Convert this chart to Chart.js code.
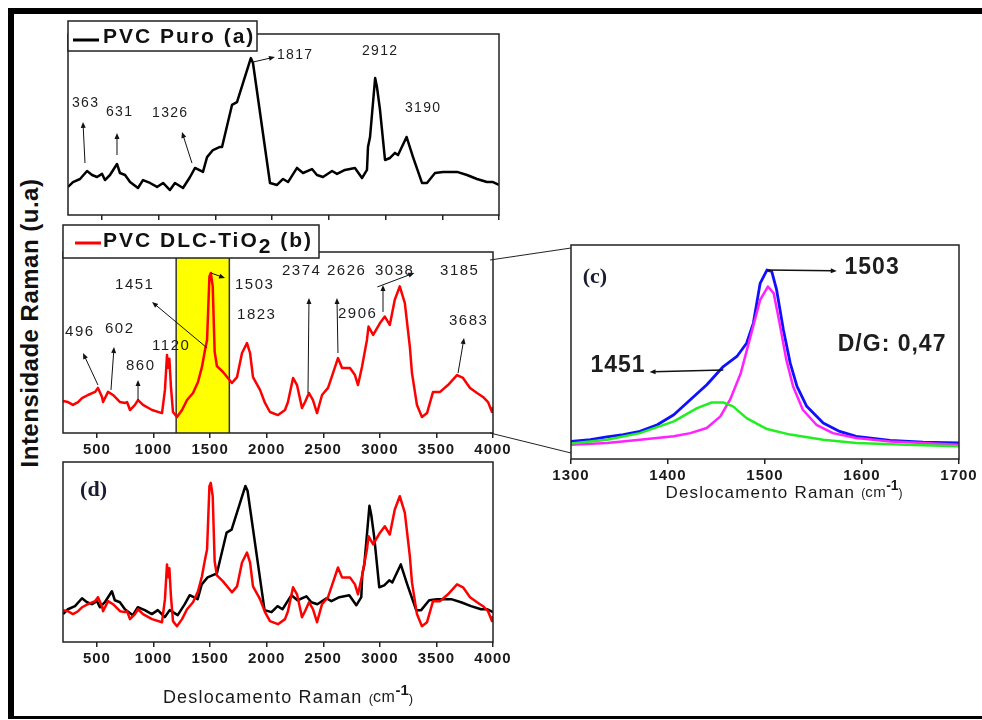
<!DOCTYPE html>
<html>
<head>
<meta charset="utf-8">
<script src="https://cdn.jsdelivr.net/npm/chart.js@4"></script>
<style>
body{margin:0;background:#fff;width:982px;height:720px;overflow:hidden;position:relative;font-family:"Liberation Sans",Arial,sans-serif}
canvas{position:absolute}
.bar{position:absolute;background:#000}
#ytitle{position:absolute;left:30px;top:323px;transform:translate(-50%,-50%) rotate(-90deg);font:bold 24px "Liberation Sans",Arial,sans-serif;white-space:nowrap;letter-spacing:0.5px;color:#111}
</style>
</head>
<body>
<div class="bar" style="left:8px;top:8px;width:974px;height:6px"></div>
<div class="bar" style="left:8px;top:8px;width:6px;height:711px"></div>
<div class="bar" style="left:8px;top:716px;width:974px;height:3px"></div>
<div id="ytitle">Intensidade Raman (u.a)</div>
<canvas id="ca" width="471" height="211" style="left:48px;top:14px"></canvas>
<canvas id="cb" width="470" height="243" style="left:43px;top:220px"></canvas>
<canvas id="cd" width="470" height="272" style="left:43px;top:440px"></canvas>
<canvas id="cc" width="492" height="276" style="left:490px;top:230px"></canvas>
<script>
// ---- data ----
const xTicksFull = [500, 1000, 1500, 2000, 2500, 3000, 3500, 4000];
const xTicksZoom = [1300, 1400, 1500, 1600, 1700];

// (a) PVC Puro
const waveA = [200,244,306,368,412,456,500,526,570,632,
  658,703,747,817,861,923,985,1038,1099,1143,
  1214,1276,1320,1390,1426,1478,1540,1558,1646,1690,
  1812,1831,1981,2043,2096,2140,2219,2272,2351,2395,
  2448,2528,2572,2642,2730,2792,2836,2845,2863,2908,
  2924,2951,2995,3039,3083,3110,3185,3242,3321,3365,
  3436,3506,3630,3718,3806,3894,3947,4000];
const intA = [15.5,18.2,19.9,24.3,22.1,21.0,22.7,19.3,22.1,28.2,
  23.2,22.1,18.2,14.9,19.3,17.7,15.5,17.7,13.8,17.7,
  14.9,21.0,26.0,23.8,32.0,35.9,37.6,37.6,60.8,62.4,
  86.7,84.0,17.7,16.6,19.9,18.2,26.0,23.2,25.4,22.1,
  21.0,24.3,22.7,24.9,26.0,20.4,24.9,37.6,43.1,75.7,
  70.7,58.0,30.4,31.5,34.3,33.1,43.1,32.0,17.7,17.7,
  23.2,23.8,23.8,22.1,19.9,18.2,18.2,16.6];

// (b) PVC DLC-TiO2
const waveB = [200,244,288,333,368,421,483,509,545,554,
  598,642,704,748,766,792,836,863,907,987,
  1075,1101,1119,1130,1140,1154,1172,1207,1252,1296,
  1349,1393,1428,1455,1473,1494,1506,1523,1540,1560,
  1614,1693,1738,1782,1826,1853,1879,1941,1985,2029,
  2100,2162,2188,2233,2268,2312,2339,2374,2409,2445,
  2489,2542,2586,2630,2666,2736,2780,2807,2842,2886,
  2900,2941,3000,3044,3088,3132,3176,3221,3265,3284,
  3328,3372,3417,3470,3532,3602,3682,3735,3797,3859,
  3912,3956,3991,4000];
const intB = [17.7,17.1,15.5,17.1,19.3,21.0,22.7,24.9,19.9,17.1,
  22.7,21.0,17.1,16.6,17.1,12.7,15.5,18.2,15.5,12.7,
  11.0,23.8,43.1,36.0,41.0,25.4,11.6,8.8,12.7,18.2,
  22.1,28.2,36.5,45.9,51.4,86.5,88.4,81.0,45.0,37.0,
  33.7,27.6,30.9,44.2,49.7,44.2,30.9,23.8,16.6,11.6,
  9.9,12.7,17.1,30.4,26.5,13.8,17.1,22.1,18.2,11.0,
  21.0,24.9,33.1,41.4,35.9,35.9,32.0,26.5,36.5,51.4,
  58.8,54.2,60.6,64.3,59.7,73.6,81.0,71.7,47.7,33.1,
  15.5,8.8,11.0,22.7,22.7,26.5,32.0,30.4,24.9,22.1,
  19.9,17.1,11.6,14.4];
const bandRange = [1200, 1670];

// (c) deconvolution 1300-1700
const waveFit = [1300,1320,1337,1354,1371,1389,1406,1423,1440,1457,1471,1481,1488,1495,1502,1507,1512,1519,1526,1533,1543,1560,1577,1594,1629,1663,1700];
const fitTotal = [8.2,9.0,10.3,11.4,12.9,16.0,20.7,27.7,34.7,43.2,47.9,54.1,63.5,82.1,88.3,87.6,79.0,60.3,44.8,33.9,24.6,16.8,12.9,10.6,8.7,7.9,7.5];
const waveG = [1300,1337,1371,1406,1423,1440,1454,1464,1475,1485,1495,1503,1509,1515,1522,1529,1539,1553,1570,1594,1629,1663,1700];
const bandG = [6.7,7.5,9.0,10.6,12.1,14.5,19.9,27.7,40.1,57.2,74.3,80.6,77.4,63.5,46.3,33.9,23.0,16.0,12.1,9.8,8.2,7.5,6.7];
const waveD = [1300,1337,1371,1406,1430,1445,1457,1467,1481,1502,1526,1560,1594,1646,1700];
const bandD = [7.2,9.0,12.1,17.6,23.8,26.4,26.4,24.6,19.1,14.0,11.4,9.0,7.5,6.7,5.9];

// peak labels [text, wavenumber, intensity] and arrows [x1, y1, x2, y2]
const notesA = [['1817',2043,88.4],['2912',2792,90.6],['363',235,61.9],['631',535,56.9],['1326',941,56.4],['3190',3171,59.1]];
const arrowsA = [[1831,84.5,2025,87.3],[350,28.7,332,51.4],[632,33.1,632,45.3],[1293,28.7,1205,45.9]];
const notesB = [['1451',660,81.8],['1503',1720,81.8],['1823',1738,65.2],['2374',2135,89.5],['2626',2533,89.5],['3038',2957,89.5],['3185',3532,89.5],['2906',2630,65.7],['3683',3611,61.9],['496',218,55.8],['602',571,57.5],['860',757,37.0],['1120',987,48.1]];
const arrowsB = [[1473,47.0,987,72.4],[1508,88.4,1632,85.6],[2365,22.1,2374,74.6],[2630,44.2,2621,74.6],[3028,66.9,3028,81.8],[2978,80.7,3305,88.4],[3691,33.1,3744,52.5],[509,26.5,377,44.2],[624,23.8,651,47.5],[863,18.2,863,29.3]];
const notesC = [['1503',1582,89.3],['D/G: 0,47',1575,53.3],['1451',1320,43.5]];
const arrowsC = [[1502,88.3,1574,87.9],[1457,41.6,1381,40.7]];

const FONT = '"Liberation Sans", Arial, sans-serif';
Chart.defaults.font.family = FONT;

function txt(ctx, s, x, y, font, ls, color, align) {
  ctx.save();
  ctx.font = font;
  ctx.letterSpacing = ls + 'px';
  ctx.fillStyle = color || '#222';
  ctx.textAlign = align || 'left';
  ctx.textBaseline = 'middle';
  ctx.fillText(s, x, y);
  const w = ctx.measureText(s).width;
  ctx.restore();
  return w;
}

function arrow(ctx, x1, y1, x2, y2, lw) {
  const ang = Math.atan2(y2 - y1, x2 - x1), L = 6, W = 2.5;
  ctx.save();
  ctx.strokeStyle = '#111'; ctx.fillStyle = '#111'; ctx.lineWidth = lw;
  ctx.beginPath();
  ctx.moveTo(x1, y1);
  ctx.lineTo(x2 - L * 0.6 * Math.cos(ang), y2 - L * 0.6 * Math.sin(ang));
  ctx.stroke();
  ctx.translate(x2, y2); ctx.rotate(ang);
  ctx.beginPath(); ctx.moveTo(0, 0); ctx.lineTo(-L, -W); ctx.lineTo(-L, W); ctx.closePath(); ctx.fill();
  ctx.restore();
}

function deco(cfg) {
  return {
    id: 'deco',
    beforeDraw(chart) { chart.ctx.letterSpacing = '1px'; },
    beforeDatasetsDraw(chart) {
      if (!cfg.band) return;
      const { ctx, chartArea: a, scales: { x } } = chart;
      const x1 = x.getPixelForValue(cfg.band[0]), x2 = x.getPixelForValue(cfg.band[1]);
      ctx.save();
      ctx.fillStyle = '#ffff00';
      ctx.fillRect(x1, a.top, x2 - x1, a.bottom - a.top);
      ctx.strokeStyle = '#333'; ctx.lineWidth = 1.5;
      ctx.beginPath();
      ctx.moveTo(x1, a.top); ctx.lineTo(x1, a.bottom);
      ctx.moveTo(x2, a.top); ctx.lineTo(x2, a.bottom);
      ctx.stroke();
      ctx.restore();
    },
    afterDraw(chart) {
      const { ctx, chartArea: a, scales: { x, y } } = chart;
      const px = v => x.getPixelForValue(v), py = v => y.getPixelForValue(v);
      ctx.save();
      ctx.strokeStyle = '#222'; ctx.lineWidth = 1.5;
      ctx.strokeRect(a.left, a.top, a.right - a.left, a.bottom - a.top);
      if (cfg.connect) {
        ctx.lineWidth = 1;
        ctx.beginPath();
        ctx.moveTo(a.left - 81, a.top + 15); ctx.lineTo(a.left, a.top + 3);
        ctx.moveTo(a.left - 81, a.bottom - 26); ctx.lineTo(a.left, a.bottom - 6);
        ctx.stroke();
      }
      ctx.restore();
      (cfg.arrows || []).forEach(r => arrow(ctx, px(r[0]), py(r[1]), px(r[2]), py(r[3]), cfg.arrowWidth || 1));
      (cfg.notes || []).forEach(n => txt(ctx, n[0], px(n[1]), py(n[2]), cfg.noteFont, cfg.noteSpacing, '#1e1e1e'));
      if (cfg.tag) txt(ctx, cfg.tag[0], px(cfg.tag[1]), py(cfg.tag[2]), 'bold 22px "Liberation Serif", serif', 0, '#1b1b33');
      if (cfg.legend) {
        const L = cfg.legend, bx = a.left, by = a.top + L.dy;
        ctx.save();
        ctx.fillStyle = '#fff'; ctx.fillRect(bx, by, L.w, L.h);
        ctx.strokeStyle = '#222'; ctx.lineWidth = 1.5; ctx.strokeRect(bx, by, L.w, L.h);
        ctx.strokeStyle = L.color; ctx.lineWidth = 3;
        ctx.beginPath(); ctx.moveTo(bx + L.lineX, by + L.lineY); ctx.lineTo(bx + L.lineX + 26, by + L.lineY); ctx.stroke();
        ctx.restore();
        let cx = bx + L.textX;
        L.parts.forEach(p => { cx += txt(ctx, p[0], cx, by + L.textY + p[1], 'bold 21px ' + FONT, 2, '#111'); });
      }
      if (cfg.title) {
        const T = cfg.title, s = T.size;
        const parts = [
          ['Deslocamento Raman ', s + 'px ' + FONT, 0, 1.2],
          ['(', Math.round(s * 0.7) + 'px ' + FONT, 1, 0],
          ['cm', Math.round(s * 0.9) + 'px ' + FONT, 0, 0.5],
          ['-1', 'bold ' + Math.round(s * 0.85) + 'px ' + FONT, -Math.round(s * 0.4), 0],
          [')', Math.round(s * 0.7) + 'px ' + FONT, 1, 0]
        ];
        let total = 0;
        parts.forEach(p => { ctx.save(); ctx.font = p[1]; ctx.letterSpacing = p[3] + 'px'; total += ctx.measureText(p[0]).width; ctx.restore(); });
        let cx = a.left + T.cx - total / 2;
        parts.forEach(p => { cx += txt(ctx, p[0], cx, a.bottom + T.dy + p[2], p[1], p[3], '#1a1a1a'); });
      }
    }
  };
}

function pts(xs, ys) { return xs.map((w, i) => ({ x: w, y: ys[i] })); }

function makeChart(id, xMin, xMax, xTicks, showLabels, xHeight, padding, datasets, cfg) {
  return new Chart(document.getElementById(id), {
    type: 'line',
    data: { datasets },
    options: {
      responsive: false,
      animation: false,
      events: [],
      layout: { padding },
      plugins: { legend: { display: false }, tooltip: { enabled: false } },
      elements: { point: { radius: 0 }, line: { tension: 0, borderJoinStyle: 'round' } },
      scales: {
        x: {
          type: 'linear', min: xMin, max: xMax,
          afterBuildTicks: s => { s.ticks = xTicks.map(v => ({ value: v })); },
          afterFit: s => { s.height = xHeight; },
          grid: { drawOnChartArea: false, drawTicks: true, tickLength: 5, color: '#222', lineWidth: 1.5 },
          border: { display: false },
          ticks: { display: showLabels, padding: 3, color: '#1a1a1a', autoSkip: false, maxRotation: 0,
                   font: { family: FONT, size: 15, weight: 'bold' }, callback: v => String(v) }
        },
        y: { display: false, min: 0, max: 100 }
      }
    },
    plugins: [deco(cfg)]
  });
}

const blackLine = { borderColor: '#000', borderWidth: 2.5, fill: false };
const redLine = { borderColor: '#ff0000', borderWidth: 2.5, fill: false };

makeChart('ca', 200, 4000, xTicksFull, false, 10, { top: 20, left: 20, right: 20, bottom: 0 },
  [Object.assign({ data: pts(waveA, intA) }, blackLine)],
  { notes: notesA, arrows: arrowsA, noteFont: '14px ' + FONT, noteSpacing: 1.3,
    legend: { dy: -13, w: 189, h: 30, color: '#000', lineX: 5, lineY: 19, textX: 35, textY: 16, parts: [['PVC Puro (a)', 0]] } });

makeChart('cb', 200, 4000, xTicksFull, true, 30, { top: 32, left: 20, right: 20, bottom: 0 },
  [Object.assign({ data: pts(waveB, intB) }, redLine)],
  { band: bandRange, notes: notesB, arrows: arrowsB, noteFont: '15px ' + FONT, noteSpacing: 1.5,
    legend: { dy: -27, w: 256, h: 33, color: '#ff0000', lineX: 12, lineY: 18, textX: 40, textY: 16,
              parts: [['PVC DLC-TiO', 0], ['2', 6], [' (b)', 0]] } });

makeChart('cd', 200, 4000, xTicksFull, true, 30, { top: 22, left: 20, right: 20, bottom: 40 },
  [Object.assign({ data: pts(waveB, intB) }, redLine), Object.assign({ data: pts(waveA, intA) }, blackLine)],
  { tag: ['(d)', 351, 84.4], title: { size: 18, cx: 225, dy: 56 } });

makeChart('cc', 1300, 1700, xTicksZoom, true, 22, { top: 15, left: 81, right: 23, bottom: 25 },
  [
    { data: pts(waveD, bandD), borderColor: '#22ee22', borderWidth: 2.5, fill: false },
    { data: pts(waveG, bandG), borderColor: '#ff22ff', borderWidth: 2.5, fill: false },
    { data: pts(waveFit, fitTotal), borderColor: '#1010ff', borderWidth: 2.8, fill: false }
  ],
  { connect: true, notes: notesC, arrows: arrowsC, arrowWidth: 1.5, noteFont: 'bold 23px ' + FONT, noteSpacing: 1,
    tag: ['(c)', 1312, 85.0], title: { size: 17, cx: 213, dy: 34 } });
</script>
</body>
</html>
